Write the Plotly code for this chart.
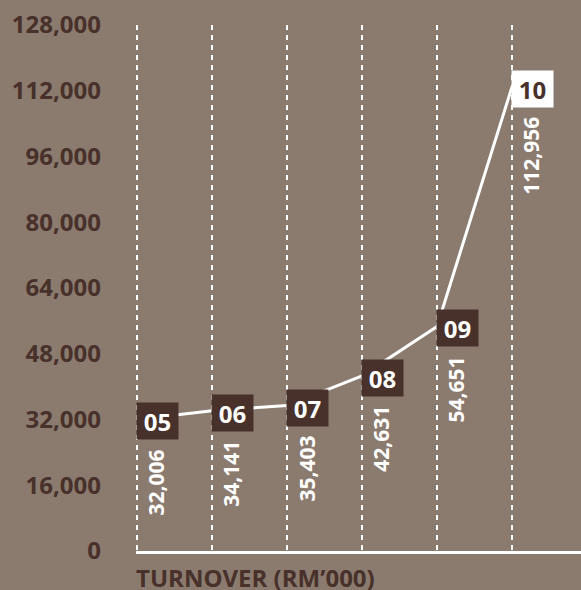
import plotly.graph_objects as go

years = ["05", "06", "07", "08", "09", "10"]
turnover = [32006, 34141, 35403, 42631, 54651, 112956]
y_ticks = [0, 16000, 32000, 48000, 64000, 80000, 96000, 112000, 128000]

BG = "#8B7A6E"
DARK = "#47312A"
FONT = "Open Sans"

xpos = list(range(len(years)))

fig = go.Figure()
fig.add_trace(go.Scatter(
    x=xpos, y=turnover, mode="lines",
    line=dict(color="white", width=3),
    hoverinfo="skip", showlegend=False,
))

for i, (yr, v) in enumerate(zip(years, turnover)):
    last = i == len(years) - 1
    fig.add_annotation(
        x=xpos[i], y=v, xref="x", yref="y", text=yr, showarrow=False,
        xanchor="left", yanchor="middle", xshift=-1, yshift=-2,
        bgcolor="white" if last else DARK,
        font=dict(family=FONT, size=24, color=DARK if last else "white", weight=700),
        width=41, height=36, borderpad=0, align="center",
    )
    fig.add_annotation(
        x=xpos[i], y=v, xref="x", yref="y", text=f"{v:,}", showarrow=False,
        textangle=-90, xanchor="center", yanchor="top",
        xshift=19, yshift=-28,
        font=dict(family=FONT, size=21, color="white", weight=700),
    )

fig.add_annotation(
    x=0, y=0, xref="paper", yref="paper", text="TURNOVER (RM’000)",
    showarrow=False, xanchor="left", yanchor="top", yshift=-8, xshift=-2,
    font=dict(family=FONT, size=24, color=DARK, weight=700),
)

fig.update_layout(
    width=581, height=590,
    margin=dict(l=136, r=0, t=25, b=39),
    paper_bgcolor=BG, plot_bgcolor=BG,
    xaxis=dict(
        range=[-0.015, 5.92], tickvals=xpos, showticklabels=False, ticks="",
        showgrid=True, gridcolor="white", gridwidth=2.2, griddash="5px,5px",
        showline=True, linecolor="white", linewidth=3, zeroline=False,
        fixedrange=True,
    ),
    yaxis=dict(
        range=[0, 128000], tickvals=y_ticks,
        ticktext=[f"{t:,}" for t in y_ticks],
        tickfont=dict(family=FONT, size=24, color=DARK, weight=700),
        showgrid=False, zeroline=False, showline=False,
        ticks="", ticklabelstandoff=34,
    ),
)

fig.write_html("out.html")
